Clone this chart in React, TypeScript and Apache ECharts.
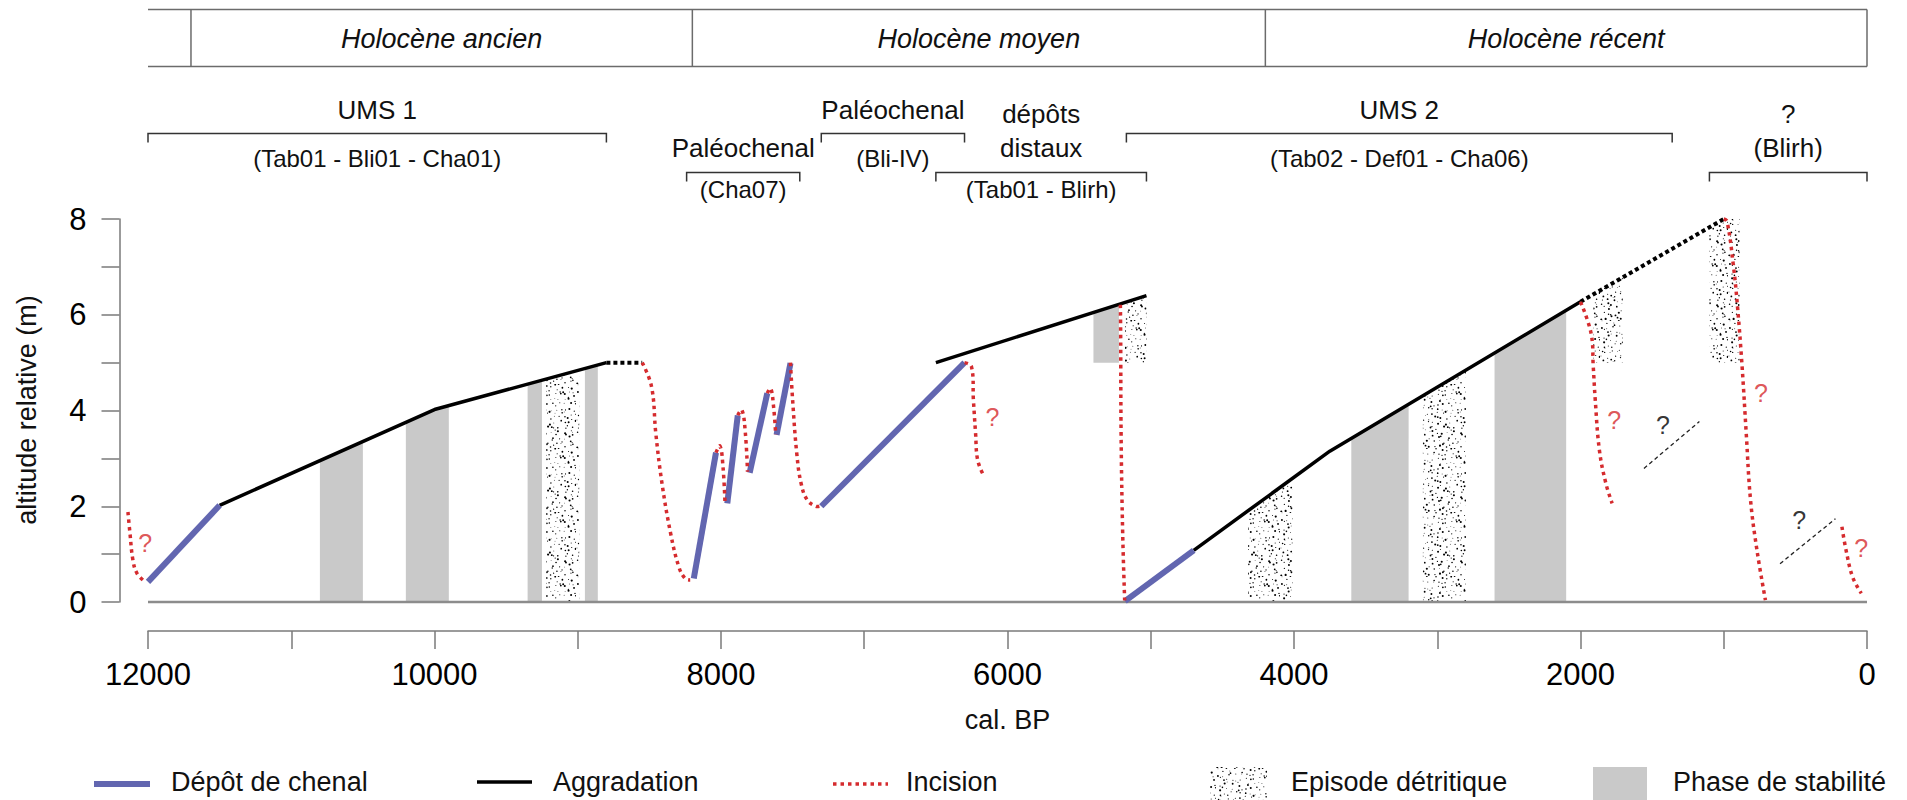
import React, { useEffect, useRef } from 'react';
import * as echarts from 'echarts';

const FONT = '"Liberation Sans", Arial, Helvetica, sans-serif';
const W = 1907;
const H = 800;
const GRID = { left: 148, right: 40, top: 219, bottom: 198 };
const X_MIN = 0;
const X_MAX = 12000;
const Y_MIN = 0;
const Y_MAX = 8;

const BLUE = '#6266b0';
const RED = '#d52b2e';
const GREY = '#c9c9c9';
const AXIS = '#7a7a7a';

// ---- header: periods of the Holocene (cal. BP) ----
const periodBounds = [11700, 8200, 4200, 0];
const periodLabels = ['Holocène ancien', 'Holocène moyen', 'Holocène récent'];

// ---- sedimentary unit brackets ----
const bracketRanges = [[12000, 8800], [8240, 7450], [7300, 6300], [6500, 5030], [5170, 1360], [1100, 0]];
const bracketRows = [0, 1, 0, 1, 0, 1];
const bracketTitles = [['UMS 1'], ['Paléochenal'], ['Paléochenal'], ['dépôts', 'distaux'], ['UMS 2'], ['?', '(Blirh)']];
const bracketSubs = ['(Tab01 - Bli01 - Cha01)', '(Cha07)', '(Bli-IV)', '(Tab01 - Blirh)', '(Tab02 - Def01 - Cha06)', ''];

// ---- channel deposits (Dépôt de chenal) ----
const channel1 = [[12000, 0.42], [11500, 2.02]];
const channel2 = [[8190, 0.49], [8035, 3.12]];
const channel3 = [[7956, 2.06], [7883, 3.9]];
const channel4 = [[7800, 2.7], [7677, 4.36]];
const channel5 = [[7612, 3.49], [7515, 4.99]];
const channel6 = [[7300, 2.0], [6300, 5.0]];
const channel7 = [[5180, 0.02], [4700, 1.08]];

// ---- aggradation ----
const aggr1 = [[11500, 2.02], [10000, 4.02], [8800, 5.0]];
const aggrDot1 = [[8800, 5.0], [8550, 5.0]];
const aggr2 = [[6500, 5.0], [5030, 6.4]];
const aggr3 = [[4700, 1.08], [3750, 3.15], [2000, 6.27]];
const aggrDot2 = [[2000, 6.27], [1000, 8.0]];

// ---- incisions ----
const incision1 = [[12140, 1.88], [12126, 1.44], [12105, 0.87], [12077, 0.6], [12020, 0.42]];
const incision2 = [[8550, 5.0], [8485, 4.5], [8455, 3.52], [8412, 2.48], [8352, 1.44], [8294, 0.73], [8250, 0.49], [8215, 0.46]];
const incision3 = [[8035, 3.12], [8007, 3.26], [7986, 2.82], [7972, 2.06]];
const incision4 = [[7883, 3.9], [7854, 4.01], [7830, 3.53], [7815, 2.72]];
const incision5 = [[7677, 4.36], [7653, 4.46], [7633, 4.08], [7618, 3.49]];
const incision6 = [[7515, 5.0], [7500, 4.22], [7471, 3.1], [7441, 2.48], [7398, 2.13], [7339, 2.0], [7310, 2.0]];
const incision7 = [[6300, 5.0], [6252, 4.92], [6238, 4.22], [6223, 3.53], [6208, 2.96], [6164, 2.63]];
const incision8 = [[5212, 6.21], [5210, 5.6], [5207, 3.5], [5196, 1.44], [5182, 0.03]];
const incision9 = [[2000, 6.27], [1926, 5.61], [1911, 4.92], [1897, 4.22], [1868, 3.17], [1823, 2.48], [1779, 2.06]];
const incision10 = [[1000, 8.0], [977, 7.95], [932, 7.01], [902, 6.1], [872, 4.92], [843, 3.52], [813, 2.13], [768, 1.08], [709, 0.04]];
const incision11 = [[175, 1.57], [146, 1.08], [100, 0.52], [40, 0.18]];
const incisions = [incision1, incision2, incision3, incision4, incision5, incision6, incision7, incision8, incision9, incision10, incision11];

// ---- uncertain thin dashed segments ----
const uncertain1 = [[1557, 2.79], [1170, 3.77]];
const uncertain2 = [[607, 0.8], [220, 1.74]];

// ---- question marks ----
const redQuestions = [[12020, 1.23], [6105, 3.87], [1764, 3.8], [740, 4.36], [40, 1.12]];
const blackQuestions = [[1424, 3.7], [473, 1.71]];

// ---- phases: [from, to, bottom altitude], top follows the aggradation surface ----
const stabilityPhases = [[10800, 10500, 0], [10200, 9900, 0], [9350, 9250, 0], [8950, 8860, 0], [5400, 5222, 5], [3600, 3200, 0], [2600, 2100, 0]];
const detritalEpisodes = [[9220, 8990, 0], [5180, 5030, 5], [4320, 4010, 0], [3100, 2800, 0], [1910, 1705, 5], [1100, 890, 5]];

const baseline = [[12000, 0], [0, 0]];

const surfaceSegments = [aggr1, aggrDot1, aggr2, aggr3, aggrDot2];

function surfaceAt(seg: number[][], v: number): number {
  const hi = seg[0][0];
  const lo = seg[seg.length - 1][0];
  const c = Math.max(lo, Math.min(hi, v));
  for (let i = 0; i < seg.length - 1; i++) {
    const a = seg[i];
    const b = seg[i + 1];
    if (c <= a[0] && c >= b[0]) {
      const t = (a[0] - c) / (a[0] - b[0] || 1);
      return a[1] + t * (b[1] - a[1]);
    }
  }
  return seg[seg.length - 1][1];
}

function bandOutline(x0: number, x1: number, bottom: number): number[][] {
  const inSeg = (s: number[][], v: number) => v <= s[0][0] && v >= s[s.length - 1][0];
  const seg = surfaceSegments.find((s) => inSeg(s, x0)) || surfaceSegments.find((s) => inSeg(s, x1));
  if (!seg) return [[x0, bottom], [x1, bottom]];
  const pts: number[][] = [[x0, bottom], [x0, surfaceAt(seg, x0)]];
  seg.forEach((p) => {
    if (p[0] < x0 && p[0] > x1) pts.push([p[0], p[1]]);
  });
  pts.push([x1, surfaceAt(seg, x1)]);
  pts.push([x1, bottom]);
  return pts;
}

function makeStipple(): any {
  const size = 64;
  const c = document.createElement('canvas');
  c.width = size;
  c.height = size;
  const ctx = c.getContext('2d');
  let s = 246813579;
  const rnd = () => {
    s = (Math.imul(s, 1664525) + 1013904223) >>> 0;
    return s / 4294967296;
  };
  if (ctx) {
    ctx.fillStyle = '#000';
    const cells = 14;
    const step = size / cells;
    for (let i = 0; i < cells; i++) {
      for (let j = 0; j < cells; j++) {
        const x = (i + rnd()) * step;
        const y = (j + rnd()) * step;
        const r = 0.4 + rnd() * 0.7;
        ctx.beginPath();
        ctx.arc(x, y, r, 0, Math.PI * 2);
        ctx.fill();
      }
    }
  }
  return { image: c.toDataURL(), repeat: 'repeat', imageWidth: size, imageHeight: size };
}

const PW = W - GRID.left - GRID.right;
const px = (v: number) => GRID.left + ((X_MAX - v) / (X_MAX - X_MIN)) * PW;

function lineSeries(data: number[][], color: string, width: number, type: any, z: number) {
  return {
    type: 'line',
    data,
    symbol: 'none',
    showSymbol: false,
    clip: false,
    silent: true,
    z,
    lineStyle: { color, width, type, cap: 'butt' },
  };
}

function incisionSeries() {
  return {
    type: 'custom',
    data: incisions.map((_, i) => [i]),
    silent: true,
    clip: false,
    z: 5,
    renderItem: (params: any, api: any) => {
      const seg = incisions[params.dataIndex];
      const pts = seg.map((p) => api.coord(p));
      return {
        type: 'polyline',
        shape: { points: pts, smooth: 0.4 },
        style: { stroke: RED, lineWidth: 3.5, lineDash: [3.5, 4], fill: null, lineCap: 'butt' },
      };
    },
  };
}

function bandSeries(data: number[][], fill: any) {
  return {
    type: 'custom',
    data,
    silent: true,
    z: 1,
    renderItem: (_params: any, api: any) => {
      const pts = bandOutline(api.value(0), api.value(1), api.value(2)).map((p) => api.coord(p));
      return { type: 'polygon', shape: { points: pts }, style: { fill } };
    },
  };
}

function buildGraphics(stipple: any): any[] {
  const g: any[] = [];
  const textStyle = (text: string, x: number, y: number, size: number, extra: any = {}) => ({
    type: 'text',
    x,
    y,
    style: { text, fontSize: size, fontFamily: FONT, fill: '#111', align: 'center', verticalAlign: 'middle', ...extra },
    silent: true,
  });
  // header box
  const hTop = 9.5;
  const hBot = 66.5;
  const lineSty = { stroke: '#6b6b6b', lineWidth: 1.5 };
  g.push({ type: 'line', shape: { x1: px(X_MAX), y1: hTop, x2: px(0), y2: hTop }, style: lineSty, silent: true });
  g.push({ type: 'line', shape: { x1: px(X_MAX), y1: hBot, x2: px(0), y2: hBot }, style: lineSty, silent: true });
  periodBounds.forEach((b) => {
    g.push({ type: 'line', shape: { x1: px(b), y1: hTop, x2: px(b), y2: hBot }, style: lineSty, silent: true });
  });
  periodLabels.forEach((t, i) => {
    const cx = (px(periodBounds[i]) + px(periodBounds[i + 1])) / 2;
    g.push(textStyle(t, cx, 39, 27, { fontStyle: 'italic' }));
  });
  // brackets
  bracketRanges.forEach(([a, b], i) => {
    const row = bracketRows[i];
    const y = row === 0 ? 133.5 : 172.5;
    const x1 = px(a);
    const x2 = px(b);
    g.push({
      type: 'polyline',
      shape: { points: [[x1, y + 9], [x1, y], [x2, y], [x2, y + 9]] },
      style: { stroke: '#333', lineWidth: 1.5, fill: null },
      silent: true,
    });
    const cx = (x1 + x2) / 2;
    const titles = bracketTitles[i];
    const lastY = row === 0 ? 110 : 148;
    titles.forEach((t, k) => {
      const ty = lastY - (titles.length - 1 - k) * 34;
      g.push(textStyle(t, cx, ty, 26));
    });
    if (bracketSubs[i]) g.push(textStyle(bracketSubs[i], cx, row === 0 ? 158 : 189, 24));
  });
  // axis names
  const yName: any = textStyle('altitude relative (m)', 27, 410, 27);
  yName.rotation = Math.PI / 2;
  g.push(yName);
  g.push(textStyle('cal. BP', px(6000), 720, 27));
  // legend
  const ly = 783;
  const lt = (t: string, x: number) => ({
    type: 'text',
    x,
    y: 782,
    style: { text: t, fontSize: 27, fontFamily: FONT, fill: '#111', align: 'left', verticalAlign: 'middle' },
    silent: true,
  });
  g.push({ type: 'line', shape: { x1: 94, y1: ly + 1, x2: 150, y2: ly + 1 }, style: { stroke: BLUE, lineWidth: 6 }, silent: true });
  g.push(lt('Dépôt de chenal', 171));
  g.push({ type: 'line', shape: { x1: 477, y1: ly - 1, x2: 532, y2: ly - 1 }, style: { stroke: '#000', lineWidth: 3.5 }, silent: true });
  g.push(lt('Aggradation', 553));
  g.push({
    type: 'line',
    shape: { x1: 833, y1: ly + 1, x2: 888, y2: ly + 1 },
    style: { stroke: RED, lineWidth: 3.5, lineDash: [3.5, 4] },
    silent: true,
  });
  g.push(lt('Incision', 906));
  g.push({ type: 'rect', shape: { x: 1210, y: 767, width: 57, height: 33 }, style: { fill: stipple }, silent: true });
  g.push(lt('Episode détritique', 1291));
  g.push({ type: 'rect', shape: { x: 1593, y: 767, width: 54, height: 33 }, style: { fill: GREY }, silent: true });
  g.push(lt('Phase de stabilité', 1673));
  return g;
}

export default function App() {
  const ref = useRef<HTMLDivElement>(null);
  useEffect(() => {
    if (!ref.current) return;
    const chart = echarts.init(ref.current, undefined, { renderer: 'svg' });
    const stipple = makeStipple();
    const option: any = {
      animation: false,
      backgroundColor: '#fff',
      grid: { ...GRID, containLabel: false, outerBoundsMode: 'none' },
      xAxis: {
        type: 'value',
        inverse: true,
        min: X_MIN,
        max: X_MAX,
        interval: 1000,
        offset: 29,
        position: 'bottom',
        axisLine: { show: true, onZero: false, lineStyle: { color: AXIS, width: 1.5 } },
        axisTick: { show: true, length: 18, lineStyle: { color: AXIS, width: 1.5 } },
        axisLabel: {
          formatter: (v: number) => (v % 2000 === 0 ? String(v) : ''),
          fontSize: 31,
          fontFamily: FONT,
          color: '#000',
          margin: 28,
        },
        splitLine: { show: false },
      },
      yAxis: {
        type: 'value',
        min: Y_MIN,
        max: Y_MAX,
        interval: 1,
        offset: 28.5,
        position: 'left',
        axisLine: { show: true, onZero: false, lineStyle: { color: AXIS, width: 1.5 } },
        axisTick: { show: true, length: 18, lineStyle: { color: AXIS, width: 1.5 } },
        axisLabel: {
          formatter: (v: number) => (v % 2 === 0 ? String(v) : ''),
          fontSize: 31,
          fontFamily: FONT,
          color: '#000',
          margin: 33,
        },
        splitLine: { show: false },
      },
      graphic: buildGraphics(stipple),
      series: [
        bandSeries(stabilityPhases, GREY),
        bandSeries(detritalEpisodes, stipple),
        lineSeries(baseline, '#8c8c8c', 2.5, 'solid', 2),
        ...[aggr1, aggr2, aggr3].map((d) => lineSeries(d, '#000', 3.5, 'solid', 3)),
        ...[aggrDot1, aggrDot2].map((d) => lineSeries(d, '#000', 4, [4, 3], 3)),
        ...[uncertain1, uncertain2].map((d) => lineSeries(d, '#222', 1.3, [4, 3], 3)),
        ...[channel1, channel2, channel3, channel4, channel5, channel6, channel7].map((d) => lineSeries(d, BLUE, 6, 'solid', 4)),
        incisionSeries(),
        {
          type: 'scatter',
          data: redQuestions,
          symbolSize: 1,
          itemStyle: { color: 'rgba(0,0,0,0)' },
          label: { show: true, position: 'inside', formatter: '?', color: RED, fontSize: 25, fontFamily: FONT },
          clip: false,
          silent: true,
          z: 6,
        },
        {
          type: 'scatter',
          data: blackQuestions,
          symbolSize: 1,
          itemStyle: { color: 'rgba(0,0,0,0)' },
          label: { show: true, position: 'inside', formatter: '?', color: '#000', fontSize: 25, fontFamily: FONT },
          clip: false,
          silent: true,
          z: 6,
        },
      ],
    };
    chart.setOption(option);
    return () => chart.dispose();
  }, []);
  return <div ref={ref} style={{ position: 'absolute', left: 0, top: 0, width: W, height: H }} />;
}
